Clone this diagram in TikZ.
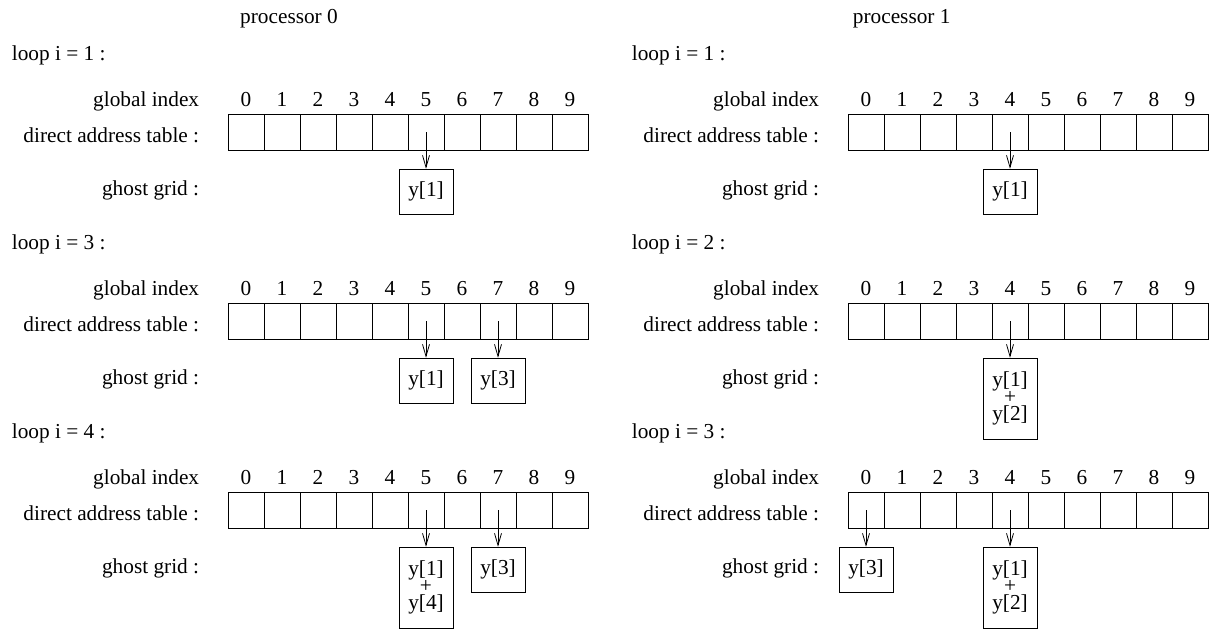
\documentclass[tikz,border=0pt]{standalone}
\usepackage{fontspec}
\setmainfont{Liberation Serif}
\usetikzlibrary{arrows.meta,positioning}

\tikzset{
  lbl/.style={inner sep=0pt, font=\fontsize{21.3}{25.6}\selectfont},
  cell/.style={draw, line width=0.9pt, minimum size=36pt, inner sep=0pt},
  ghost/.style={draw, line width=0.9pt, minimum width=54pt, minimum height=45pt,
    inner sep=0pt, align=center, font=\fontsize{21.3}{25.6}\selectfont},
  ptr/.style={line width=0.8pt, -{Straight Barb[length=12pt,width=7pt]}},
}

% #1 name prefix, #2 left edge of the table, #3 top of the table, #4 loop text
\newcommand\dattable[4]{%
  \node[lbl, anchor=base west] (#1loop) at (#2-216.3, #3-54.3) {#4};
  \node[lbl, anchor=base east] (#1gi) at (#2-28.7, #3-7.6) {global index};
  \node[lbl, anchor=base east] (#1da) at (#2-28.7, #3+27.7) {direct address table :};
  \node[lbl, anchor=base east] (#1gg) at (#2-28.7, #3+81.2) {ghost grid :};
  \foreach \i in {0,...,9} {
    \node[cell] (#1c\i) at (#2+18+36*\i, #3+18) {};
    \node[lbl, anchor=base] (#1n\i) at (#2+18+36*\i, #3-7.6) {\i};
  }%
}

\begin{document}
\begin{tikzpicture}[x=1pt, y=-1pt]
\useasboundingbox (0,0) rectangle (1213,630);

\node[lbl, anchor=base] (p0) at (289,23.3) {processor 0};
\node[lbl, anchor=base] (p1) at (901.7,23.3) {processor 1};

% processor 0
\dattable{A1}{228}{114.3}{loop i = 1 :}
\dattable{A2}{228}{303.3}{loop i = 3 :}
\dattable{A3}{228}{492.3}{loop i = 4 :}

\node[ghost, below=18pt of A1c5] (A1g1) {y[1]};
\draw[ptr] (A1c5.center) -- (A1g1.north);

\node[ghost, below=18pt of A2c5] (A2g1) {y[1]};
\node[ghost, below=18pt of A2c7] (A2g3) {y[3]};
\draw[ptr] (A2c5.center) -- (A2g1.north);
\draw[ptr] (A2c7.center) -- (A2g3.north);

\node[ghost, minimum height=81pt, below=18pt of A3c5] (A3g1) {y[1]\\[-8.6pt]+\\[-8.6pt]y[4]};
\node[ghost, below=18pt of A3c7] (A3g3) {y[3]};
\draw[ptr] (A3c5.center) -- (A3g1.north);
\draw[ptr] (A3c7.center) -- (A3g3.north);

% processor 1
\dattable{B1}{848}{114.3}{loop i = 1 :}
\dattable{B2}{848}{303.3}{loop i = 2 :}
\dattable{B3}{848}{492.3}{loop i = 3 :}

\node[ghost, below=18pt of B1c4] (B1g1) {y[1]};
\draw[ptr] (B1c4.center) -- (B1g1.north);

\node[ghost, minimum height=81pt, below=18pt of B2c4] (B2g1) {y[1]\\[-8.6pt]+\\[-8.6pt]y[2]};
\draw[ptr] (B2c4.center) -- (B2g1.north);

\node[ghost, below=18pt of B3c0] (B3g3) {y[3]};
\node[ghost, minimum height=81pt, below=18pt of B3c4] (B3g1) {y[1]\\[-8.6pt]+\\[-8.6pt]y[2]};
\draw[ptr] (B3c0.center) -- (B3g3.north);
\draw[ptr] (B3c4.center) -- (B3g1.north);
\end{tikzpicture}
\end{document}
